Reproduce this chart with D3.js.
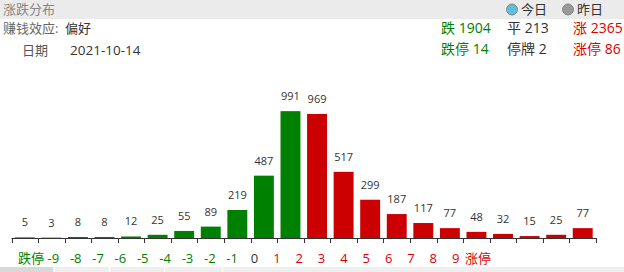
<!DOCTYPE html>
<meta charset="utf-8">
<script src="https://d3js.org/d3.v7.min.js"></script>
<style>
  body { margin: 0; background: #fff; }
  text { font-family: "Open Sans", "Noto Sans CJK SC", sans-serif; }
</style>
<div id="chart"></div>
<script>
    // bar values (22 buckets) and the x labels under the axis
    var values = [5, 3, 8, 8, 12, 25, 55, 89, 219, 487, 991, 969, 517, 299, 187, 117, 77, 48, 32, 15, 25, 77];
    var downCount = 11; // first 11 bars green, rest red
    var xLabels = ["跌停", "-9", "-8", "-7", "-6", "-5", "-4", "-3", "-2", "-1", "0",
        "1", "2", "3", "4", "5", "6", "7", "8", "9", "涨停"];

    // header stats
    var statsRow1 = [["跌 1904", "down"], ["平 213", "flat"], ["涨 2365", "up"]];
    var statsRow2 = [["跌停 14", "down"], ["停牌 2", "flat"], ["涨停 86", "up"]];
    var tradeDate = "2021-10-14";

    var W = 624, H = 272;
    var green = "#008000", red = "#cc0000", dark = "#333";
    var colorOf = { down: green, flat: dark, up: "#dd0000" };

    var svg = d3.select("#chart").append("svg")
        .attr("width", W).attr("height", H);

    // title bar
    svg.append("rect").attr("x", 0).attr("y", 0).attr("width", W).attr("height", 19)
        .attr("fill", "#ebebeb");
    svg.append("text").attr("x", 3).attr("y", 14).attr("font-size", 13)
        .attr("fill", "#888").text("涨跌分布");

    // legend
    var legend = [["今日", "#5bc0de", 512], ["昨日", "#999", 568]];
    legend.forEach(function (l) {
        svg.append("circle").attr("cx", l[2]).attr("cy", 9.5).attr("r", 5.5)
            .attr("fill", l[1]).attr("stroke", "#888").attr("stroke-width", 1);
        svg.append("text").attr("x", l[2] + 9).attr("y", 14).attr("font-size", 13)
            .attr("fill", dark).text(l[0]);
    });

    svg.append("text").attr("x", 3).attr("y", 33).attr("font-size", 13)
        .attr("fill", "#666").text("赚钱效应:");
    svg.append("text").attr("x", 65).attr("y", 33).attr("font-size", 13)
        .attr("fill", dark).text("偏好");
    svg.append("text").attr("x", 22).attr("y", 55).attr("font-size", 13)
        .attr("fill", "#555").text("日期");
    svg.append("text").attr("x", 70).attr("y", 55).attr("font-size", 13.5)
        .attr("fill", dark).text(tradeDate);

    [statsRow1, statsRow2].forEach(function (row, r) {
        row.forEach(function (s, i) {
            svg.append("text").attr("x", 441 + i * 66).attr("y", 33 + r * 21)
                .attr("font-size", 14).attr("fill", colorOf[s[1]]).text(s[0]);
        });
    });

    // scales
    var x = d3.scaleBand().domain(d3.range(values.length))
        .range([11.5, 596]).paddingInner(0.25).paddingOuter(0.125);
    var y = d3.scaleLinear().domain([0, 1000]).range([238, 110]);
    var xl = d3.scalePoint().domain(xLabels).range([31, 478]);

    // bars
    svg.selectAll("rect.bar").data(values).enter().append("rect")
        .attr("class", "bar")
        .attr("x", function (d, i) { return x(i); })
        .attr("y", function (d) { return y(d); })
        .attr("width", x.bandwidth())
        .attr("height", function (d) { return y(0) - y(d); })
        .attr("fill", function (d, i) { return i < downCount ? green : red; });

    svg.selectAll("text.val").data(values).enter().append("text")
        .attr("class", "val")
        .attr("x", function (d, i) { return x(i) + x.bandwidth() / 2; })
        .attr("y", function (d) { return y(d) - 11; })
        .attr("text-anchor", "middle").attr("font-size", 11)
        .attr("fill", dark).text(function (d) { return d; });

    // axis line with ticks at band edges
    var step = x.step();
    var x0 = 11.5;
    svg.append("line").attr("x1", x0).attr("x2", 596).attr("y1", 238.5).attr("y2", 238.5)
        .attr("stroke", dark);
    svg.selectAll("line.tick").data(d3.range(values.length + 1)).enter().append("line")
        .attr("class", "tick")
        .attr("x1", function (i) { return Math.round(x0 + i * step) + 0.5; })
        .attr("x2", function (i) { return Math.round(x0 + i * step) + 0.5; })
        .attr("y1", 238).attr("y2", 243).attr("stroke", dark);

    // category labels
    svg.selectAll("text.cat").data(xLabels).enter().append("text")
        .attr("class", "cat")
        .attr("x", function (d) { return xl(d); })
        .attr("y", 263).attr("text-anchor", "middle").attr("font-size", 13)
        .attr("fill", function (d, i) { return i < 10 ? green : (i === 10 ? dark : "#dd0000"); })
        .text(function (d) { return d; });

    // bottom tab strip
    svg.append("rect").attr("x", 0).attr("y", 267).attr("width", W).attr("height", 5)
        .attr("fill", "#efefef");
    svg.append("rect").attr("x", 0).attr("y", 267).attr("width", 53).attr("height", 5)
        .attr("fill", "#d9d9d9");
    [54, 109, 164, 222].forEach(function (px) {
        svg.append("rect").attr("x", px).attr("y", 267).attr("width", 1).attr("height", 5)
            .attr("fill", "#fff");
    });
</script>
